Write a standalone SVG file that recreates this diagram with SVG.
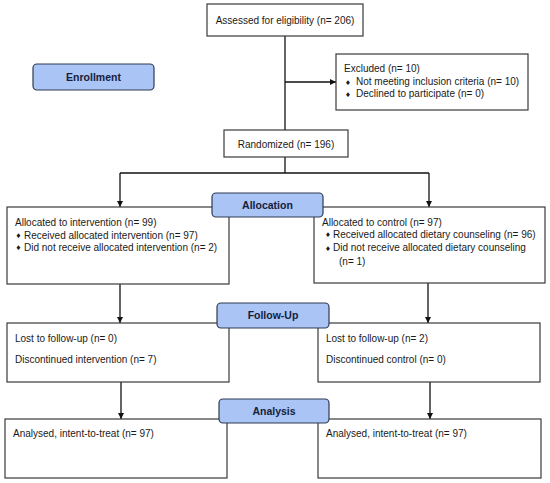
<svg xmlns="http://www.w3.org/2000/svg" width="550" height="483" viewBox="0 0 550 483">
<defs>
<style>
.box{fill:#fff;stroke:#3a3a3a;stroke-width:1.2}
.lbl{fill:#a9c4f5;stroke:#2e3a52;stroke-width:1.2}
.t{font-family:"Liberation Sans",Arial,sans-serif;font-size:10px;fill:#1a1a1a}
.b{font-family:"DejaVu Sans",sans-serif;font-size:6.5px;fill:#1a1a1a}
.c{text-anchor:middle}
.lt{font-family:"Liberation Sans",Arial,sans-serif;font-size:10.5px;font-weight:bold;fill:#16203a;text-anchor:middle}
.ln{stroke:#111;stroke-width:1.3;fill:none}
</style>
<marker id="ah" viewBox="0 0 10 10" refX="10" refY="5" markerWidth="6" markerHeight="6" orient="auto" markerUnits="userSpaceOnUse">
<path d="M0,0 L10,5 L0,10 z" fill="#111"/>
</marker>
</defs>
<rect width="550" height="483" fill="#fff"/>
<g id="connectors">
<path class="ln" d="M285,36 V130"/>
<path class="ln" d="M285,82 H336" marker-end="url(#ah)"/>
<path class="ln" d="M285,157 V173"/>
<path class="ln" d="M120,173 H429"/>
<path class="ln" d="M120,173 V207" marker-end="url(#ah)"/>
<path class="ln" d="M429,173 V207" marker-end="url(#ah)"/>
<path class="ln" d="M120,284 V323" marker-end="url(#ah)"/>
<path class="ln" d="M428,283 V323" marker-end="url(#ah)"/>
<path class="ln" d="M121,382 V419" marker-end="url(#ah)"/>
<path class="ln" d="M430,382 V419" marker-end="url(#ah)"/>
</g>
<g id="assessed">
<rect class="box" x="207" y="4" width="156" height="32"/>
<text class="t c" x="285" y="23.5">Assessed for eligibility (n= 206)</text>
</g>
<g id="excluded">
<rect class="box" x="336" y="54" width="192" height="56"/>
<text class="t" x="344" y="72">Excluded (n= 10)</text>
<text class="b" x="345" y="84.5">♦</text><text class="t" x="356" y="85">Not meeting inclusion criteria (n= 10)</text>
<text class="b" x="345" y="96.5">♦</text><text class="t" x="356" y="97">Declined to participate (n= 0)</text>
</g>
<g id="randomized">
<rect class="box" x="224" y="130" width="124" height="27"/>
<text class="t c" x="286" y="147.5">Randomized (n= 196)</text>
</g>
<g id="alloc-intervention">
<rect class="box" x="7" y="207" width="222" height="77"/>
<text class="t" x="15" y="225.5">Allocated to intervention (n= 99)</text>
<text class="b" x="15.5" y="238">♦</text><text class="t" x="24" y="238.5">Received allocated intervention (n= 97)</text>
<text class="b" x="15.5" y="250">♦</text><text class="t" x="24" y="250.5">Did not receive allocated intervention (n= 2)</text>
</g>
<g id="alloc-control">
<rect class="box" x="314" y="207" width="231" height="76"/>
<text class="t" x="322" y="225.5">Allocated to control (n= 97)</text>
<text class="b" x="325" y="237">♦</text><text class="t" x="333" y="237.5">Received allocated dietary counseling (n= 96)</text>
<text class="b" x="325" y="250.5">♦</text><text class="t" x="333" y="251">Did not receive allocated dietary counseling</text>
<text class="t" x="339" y="265">(n= 1)</text>
</g>
<g id="followup-intervention">
<rect class="box" x="7" y="323" width="222" height="59"/>
<text class="t" x="15" y="342">Lost to follow-up (n= 0)</text>
<text class="t" x="15" y="363">Discontinued intervention (n= 7)</text>
</g>
<g id="followup-control">
<rect class="box" x="318" y="323" width="222" height="59"/>
<text class="t" x="326" y="342">Lost to follow-up (n= 2)</text>
<text class="t" x="326" y="363">Discontinued control (n= 0)</text>
</g>
<g id="analysis-intervention">
<rect class="box" x="5" y="419" width="222" height="59"/>
<text class="t" x="13" y="437">Analysed, intent-to-treat (n= 97)</text>
</g>
<g id="analysis-control">
<rect class="box" x="318" y="419" width="223" height="59"/>
<text class="t" x="326" y="437">Analysed, intent-to-treat (n= 97)</text>
</g>
<g id="label-enrollment">
<rect class="lbl" x="33" y="64" width="121" height="26" rx="4"/>
<text class="lt" x="93.5" y="80.5">Enrollment</text>
</g>
<g id="label-allocation">
<rect class="lbl" x="212" y="193" width="111" height="24" rx="4"/>
<text class="lt" x="267.5" y="208.5">Allocation</text>
</g>
<g id="label-followup">
<rect class="lbl" x="217" y="303" width="112" height="25" rx="4"/>
<text class="lt" x="273" y="319">Follow-Up</text>
</g>
<g id="label-analysis">
<rect class="lbl" x="219" y="399" width="110" height="24" rx="4"/>
<text class="lt" x="274" y="414.5">Analysis</text>
</g>
</svg>
